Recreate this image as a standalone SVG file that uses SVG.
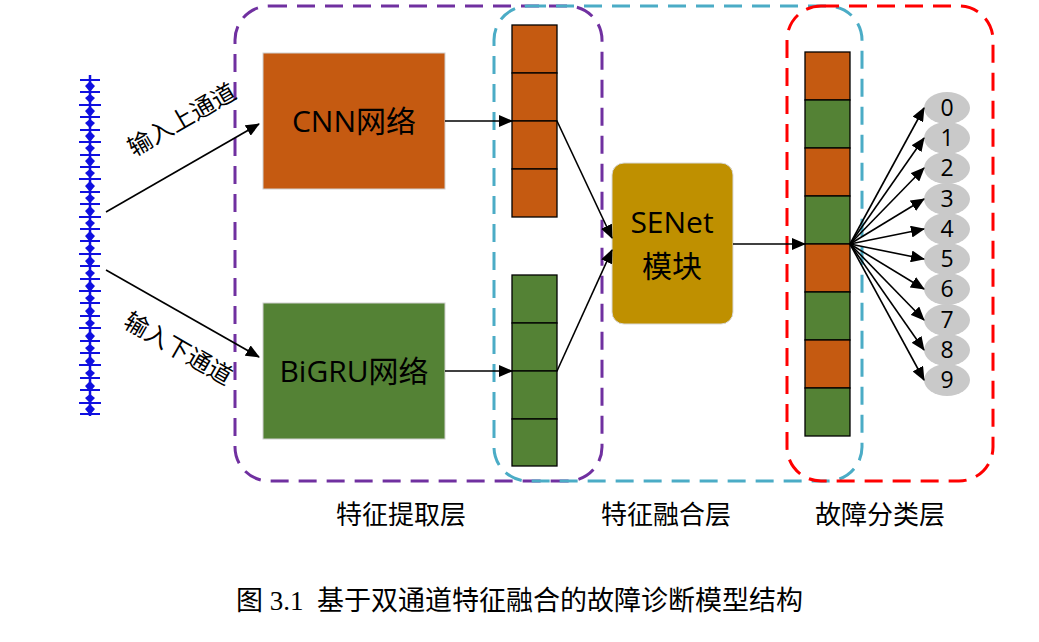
<svg xmlns="http://www.w3.org/2000/svg" width="1039" height="642" viewBox="0 0 1039 642">
<defs>
<style>
.grp{fill:none;stroke-width:3;stroke-dasharray:18 10}
.cn{font-family:"Open Sans","Noto Sans CJK SC",sans-serif;fill:#000}
.zh{font-family:"Noto Sans CJK SC",sans-serif;fill:#000}
.cell{stroke:#000;stroke-width:1.3}
.or{fill:#C55A11}
.gr{fill:#548235}
.ln{stroke:#000;stroke-width:1.6;fill:none}
.ell{fill:#C9C9C9}
</style>
<marker id="ah" markerWidth="14" markerHeight="12" refX="13" refY="6" orient="auto" markerUnits="userSpaceOnUse">
<path d="M0,0 L14,6 L0,12 Z" fill="#000"/>
</marker>
</defs>
<rect width="1039" height="642" fill="#fff"/>

<!-- group frames -->
<g id="frames">
<rect class="grp" x="235" y="6" width="367" height="475" rx="34" stroke="#7030A0"/>
<rect class="grp" x="494" y="6" width="368" height="475" rx="34" stroke="#4BACC6"/>
<rect class="grp" x="787" y="6" width="206" height="475" rx="34" stroke="#FF0000"/>
</g>

<!-- signal -->
<g id="signal" stroke="#1010E0" fill="#1010E0">
<line x1="90" y1="75" x2="90" y2="416" stroke-width="2.5"/>
<path d="M80,80h20M80,92h20M79,105h22M80,117h20M80,130h20M79,142h22M80,155h20M80,167h20M79,179h22M80,192h20M80,204h20M79,217h22M80,229h20M80,241h20M79,254h22M80,266h20M80,279h20M79,291h22M80,303h20M80,316h20M79,328h22M80,341h20M80,353h20M79,365h22M80,378h20M80,390h20M79,403h22M80,414h20" stroke-width="2.2" fill="none"/>
<path d="M85,86l5,-5l5,5l-5,6zM85,98l5,-4l5,4l-5,5zM85,111l5,-5l5,5l-5,6zM85,123l5,-4l5,4l-5,5zM85,136l5,-5l5,5l-5,6zM85,148l5,-4l5,4l-5,5zM85,161l5,-5l5,5l-5,6zM85,173l5,-4l5,4l-5,5zM85,186l5,-5l5,5l-5,6zM85,198l5,-4l5,4l-5,5zM85,211l5,-5l5,5l-5,6zM85,223l5,-4l5,4l-5,5zM85,236l5,-5l5,5l-5,6zM85,248l5,-4l5,4l-5,5zM85,261l5,-5l5,5l-5,6zM85,273l5,-4l5,4l-5,5zM85,286l5,-5l5,5l-5,6zM85,298l5,-4l5,4l-5,5zM85,311l5,-5l5,5l-5,6zM85,323l5,-4l5,4l-5,5zM85,336l5,-5l5,5l-5,6zM85,348l5,-4l5,4l-5,5zM85,361l5,-5l5,5l-5,6zM85,373l5,-4l5,4l-5,5zM85,386l5,-5l5,5l-5,6zM85,398l5,-4l5,4l-5,5zM85,409l5,-5l5,5l-5,6z" stroke="none"/>
</g>

<!-- nodes -->
<g id="cnn">
<rect x="263" y="53" width="182" height="136" fill="#C55A11" stroke="#D0D0D0" stroke-width="1"/>
<text class="cn" x="354" y="132" font-size="30" text-anchor="middle">CNN网络</text>
</g>
<g id="bigru">
<rect x="263" y="303" width="182" height="136" fill="#548235" stroke="#D0D0D0" stroke-width="1"/>
<text class="cn" x="354" y="382" font-size="30" text-anchor="middle">BiGRU网络</text>
</g>

<g id="cnn-features">
<rect class="cell or" x="512" y="25" width="45" height="48"/>
<rect class="cell or" x="512" y="73" width="45" height="48"/>
<rect class="cell or" x="512" y="121" width="45" height="48"/>
<rect class="cell or" x="512" y="169" width="45" height="48"/>
</g>
<g id="bigru-features">
<rect class="cell gr" x="512" y="275" width="45" height="48"/>
<rect class="cell gr" x="512" y="323" width="45" height="48"/>
<rect class="cell gr" x="512" y="371" width="45" height="48"/>
<rect class="cell gr" x="512" y="419" width="45" height="47"/>
</g>

<g id="senet">
<rect x="612" y="163" width="121" height="161" rx="12" fill="#BF9000" stroke="#D8D8D8" stroke-width="1"/>
<text class="cn" x="672" y="233" font-size="30" text-anchor="middle">SENet</text>
<text class="zh" x="672" y="277" font-size="30" text-anchor="middle">模块</text>
</g>

<g id="fused-features">
<rect class="cell or" x="805" y="52" width="45" height="48"/>
<rect class="cell gr" x="805" y="100" width="45" height="48"/>
<rect class="cell or" x="805" y="148" width="45" height="48"/>
<rect class="cell gr" x="805" y="196" width="45" height="48"/>
<rect class="cell or" x="805" y="244" width="45" height="48"/>
<rect class="cell gr" x="805" y="292" width="45" height="48"/>
<rect class="cell or" x="805" y="340" width="45" height="48"/>
<rect class="cell gr" x="805" y="388" width="45" height="48"/>
</g>

<g id="classes" font-family="'Open Sans',sans-serif" font-size="23" text-anchor="middle">
<g id="c0"><ellipse class="ell" cx="947" cy="108" rx="23" ry="16"/><text x="947" y="116">0</text></g>
<g id="c1"><ellipse class="ell" cx="947" cy="138" rx="23" ry="16"/><text x="947" y="146">1</text></g>
<g id="c2"><ellipse class="ell" cx="947" cy="168" rx="23" ry="16"/><text x="947" y="176">2</text></g>
<g id="c3"><ellipse class="ell" cx="947" cy="199" rx="23" ry="16"/><text x="947" y="207">3</text></g>
<g id="c4"><ellipse class="ell" cx="947" cy="229" rx="23" ry="16"/><text x="947" y="237">4</text></g>
<g id="c5"><ellipse class="ell" cx="947" cy="259" rx="23" ry="16"/><text x="947" y="267">5</text></g>
<g id="c6"><ellipse class="ell" cx="947" cy="289" rx="23" ry="16"/><text x="947" y="297">6</text></g>
<g id="c7"><ellipse class="ell" cx="947" cy="320" rx="23" ry="16"/><text x="947" y="328">7</text></g>
<g id="c8"><ellipse class="ell" cx="947" cy="350" rx="23" ry="16"/><text x="947" y="358">8</text></g>
<g id="c9"><ellipse class="ell" cx="947" cy="380" rx="23" ry="16"/><text x="947" y="388">9</text></g>
</g>

<!-- connectors -->
<g id="connectors" class="ln" marker-end="url(#ah)">
<line x1="106" y1="212" x2="259" y2="124"/>
<line x1="106" y1="270" x2="259" y2="357"/>
<line x1="445" y1="121" x2="512" y2="121"/>
<line x1="445" y1="371" x2="512" y2="371"/>
<line x1="557" y1="121" x2="612" y2="238"/>
<line x1="557" y1="371" x2="612" y2="250"/>
<line x1="733" y1="244" x2="805" y2="244"/>
<line x1="850" y1="244" x2="924" y2="108"/>
<line x1="850" y1="244" x2="924" y2="138"/>
<line x1="850" y1="244" x2="924" y2="168"/>
<line x1="850" y1="244" x2="924" y2="199"/>
<line x1="850" y1="244" x2="924" y2="229"/>
<line x1="850" y1="244" x2="924" y2="259"/>
<line x1="850" y1="244" x2="924" y2="289"/>
<line x1="850" y1="244" x2="924" y2="320"/>
<line x1="850" y1="244" x2="924" y2="350"/>
<line x1="850" y1="244" x2="924" y2="380"/>
</g>

<!-- labels -->
<text class="zh" font-size="24" text-anchor="middle" transform="translate(186,127) rotate(-30)">输入上通道</text>
<text class="zh" font-size="24" text-anchor="middle" transform="translate(174,356) rotate(30)">输入下通道</text>

<text class="zh" x="401" y="524" font-size="26" text-anchor="middle">特征提取层</text>
<text class="zh" x="666" y="524" font-size="26" text-anchor="middle">特征融合层</text>
<text class="zh" x="880" y="524" font-size="26" text-anchor="middle">故障分类层</text>

<text x="236" y="610" font-size="27" font-family="'Liberation Serif','Noto Sans CJK SC',serif" fill="#000" style="white-space:pre" xml:space="preserve">图 3.1  基于双通道特征融合的故障诊断模型结构</text>
</svg>
